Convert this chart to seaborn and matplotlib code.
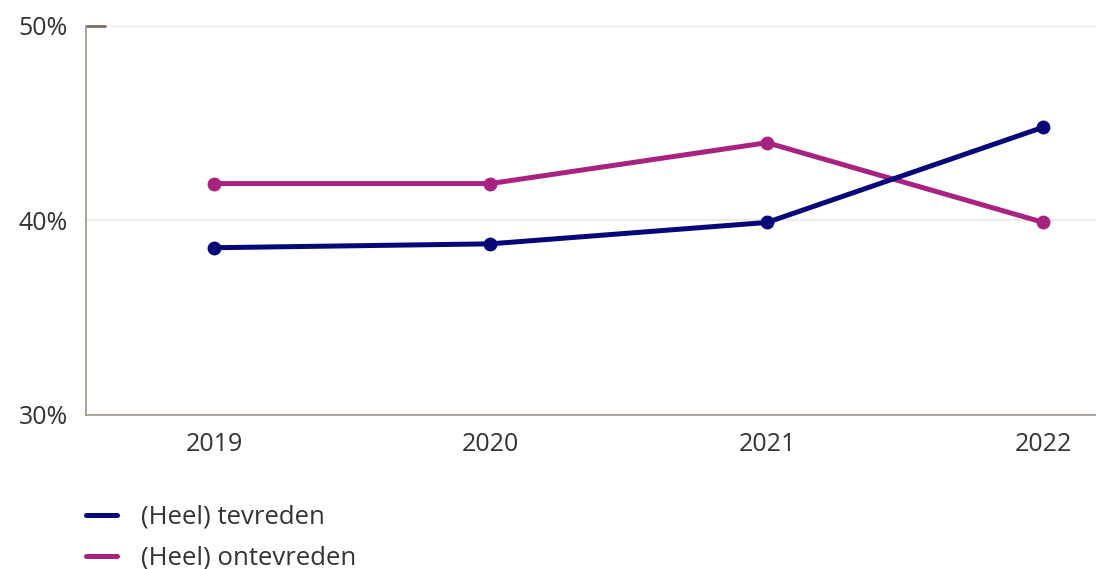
import matplotlib
matplotlib.use("Agg")
import matplotlib.pyplot as plt
from matplotlib.lines import Line2D
import seaborn as sns
import pandas as pd

years = ["2019", "2020", "2021", "2022"]
tevreden = [38.6, 38.8, 39.9, 44.8]
ontevreden = [41.9, 41.9, 44.0, 39.9]
series_names = ["(Heel) tevreden", "(Heel) ontevreden"]
y_ticks = [30, 40, 50]
y_tick_labels = ["30%", "40%", "50%"]

colors = {"(Heel) tevreden": "#07077a", "(Heel) ontevreden": "#a8237f"}

df = pd.DataFrame({
    "jaar": years * 2,
    "waarde": tevreden + ontevreden,
    "reeks": [series_names[0]] * len(years) + [series_names[1]] * len(years),
})

sns.set_theme(style="white")
plt.rcParams["font.family"] = ["Open Sans", "DejaVu Sans"]

fig = plt.figure(figsize=(10.96, 5.69), dpi=100)
ax = fig.add_axes([86 / 1096, 1 - 415 / 569, 1 - 86 / 1096, (415 - 26) / 569])

# draw ontevreden first so tevreden lies on top
for name, z in [(series_names[1], 3), (series_names[0], 4)]:
    sub = df[df["reeks"] == name]
    sns.lineplot(data=sub, x="jaar", y="waarde", color=colors[name], lw=3.6,
                 marker="o", markersize=10, markeredgewidth=0, ax=ax,
                 zorder=z, legend=False, sort=False)

ax.set_xlim(-0.463, 3.19)
ax.set_ylim(30, 50)
ax.set_yticks(y_ticks)
ax.set_yticklabels(y_tick_labels)
ax.set_xlabel("")
ax.set_ylabel("")
ax.grid(axis="y", color="#ebe7e3", lw=1.2)
ax.grid(axis="x", visible=False)
for s in ["top", "right"]:
    ax.spines[s].set_visible(False)
for s in ["left", "bottom"]:
    ax.spines[s].set_color("#a89c8a")
    ax.spines[s].set_linewidth(1.3)
ax.tick_params(axis="x", which="major", length=0, labelsize=18, labelcolor="#333333", pad=12)
ax.tick_params(axis="y", which="major", left=True, direction="in", length=14.4, width=2.0,
               color="#7d6e5a", labelsize=18, labelcolor="#333333", pad=13)
for t, v in zip(ax.yaxis.get_major_ticks(), y_ticks):
    t.tick1line.set_visible(v == 50)

handles = [Line2D([0], [0], color=colors[n], lw=3.6, solid_capstyle="round") for n in series_names]
fig.legend(handles, series_names, loc="upper left", bbox_to_anchor=(86 / 1096, 1 - 505 / 569),
           frameon=False, fontsize=18.5, handlelength=1.2, handletextpad=0.95,
           labelspacing=0.62, borderpad=0, borderaxespad=0, labelcolor="#333333")

fig.savefig("out.png", dpi=100)
